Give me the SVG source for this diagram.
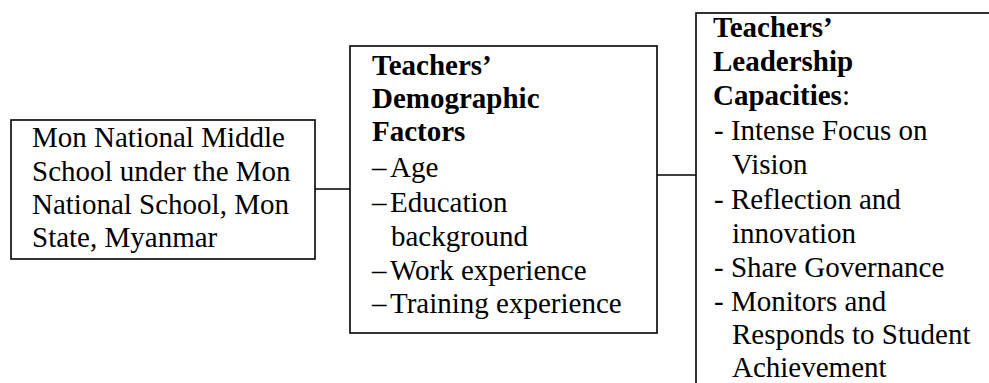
<svg xmlns="http://www.w3.org/2000/svg" width="989" height="383" viewBox="0 0 989 383">
<style>
.box{fill:#fff;stroke:#000;stroke-width:1.6}
.con{stroke:#000;stroke-width:1.6;fill:none}
text{font-family:"Liberation Serif","Times New Roman",serif;font-size:29px;fill:#000}
.b{font-weight:bold}
</style>
<rect width="989" height="383" fill="#fff"/>
<g id="connectors">
<line class="con" x1="315" y1="189" x2="350" y2="189"/>
<line class="con" x1="657" y1="175" x2="696" y2="175"/>
</g>
<g id="school">
<rect class="box" x="11" y="120" width="304" height="139"/>
<text x="32" y="147">Mon National Middle</text>
<text x="32" y="181">School under the Mon</text>
<text x="32" y="214">National School, Mon</text>
<text x="32" y="247">State, Myanmar</text>
</g>
<g id="demographic">
<rect class="box" x="350" y="46" width="307" height="287"/>
<text class="b" x="372" y="75">Teachers’</text>
<text class="b" x="372" y="108">Demographic</text>
<text class="b" x="372" y="141">Factors</text>
<text y="177"><tspan x="372">–</tspan><tspan x="390">Age</tspan></text>
<text y="212"><tspan x="372">–</tspan><tspan x="390">Education</tspan></text>
<text x="391" y="246">background</text>
<text y="280"><tspan x="372">–</tspan><tspan x="390">Work experience</tspan></text>
<text y="313"><tspan x="372">–</tspan><tspan x="390">Training experience</tspan></text>
</g>
<g id="leadership">
<rect class="box" x="696" y="13" width="310" height="380"/>
<text class="b" x="713" y="37">Teachers’</text>
<text class="b" x="713" y="71">Leadership</text>
<text x="713" y="105"><tspan class="b">Capacities</tspan>:</text>
<text x="714" y="140">- Intense Focus on</text>
<text x="732" y="174">Vision</text>
<text x="714" y="209">- Reflection and</text>
<text x="732" y="243">innovation</text>
<text x="714" y="277">- Share Governance</text>
<text x="714" y="311">- Monitors and</text>
<text x="732" y="344">Responds to Student</text>
<text x="732" y="377">Achievement</text>
</g>
</svg>
